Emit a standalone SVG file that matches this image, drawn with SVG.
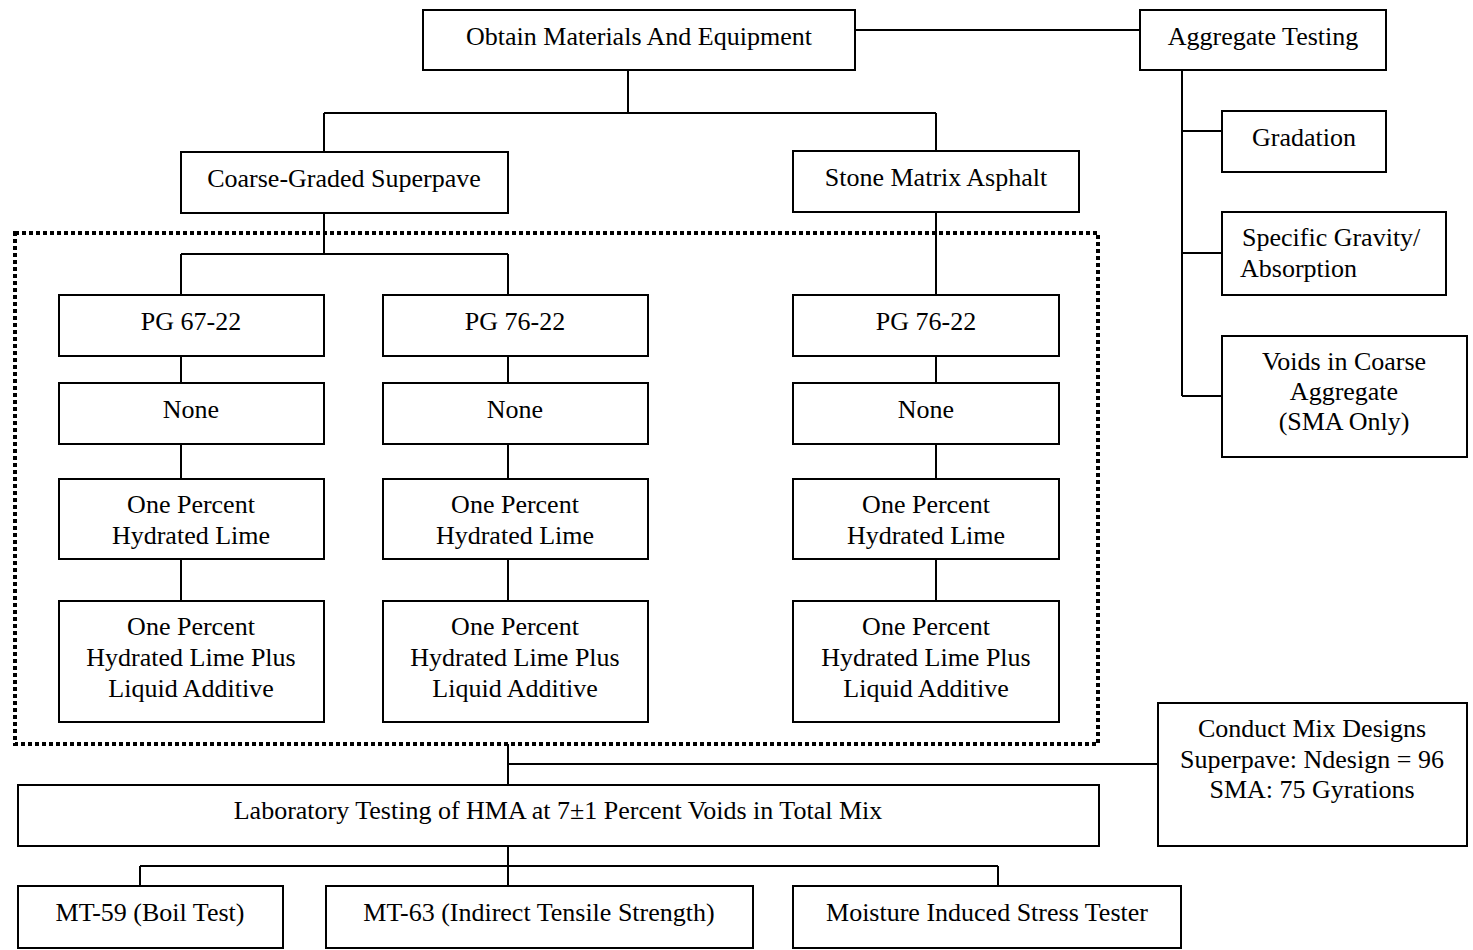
<svg xmlns="http://www.w3.org/2000/svg" width="1473" height="950" viewBox="0 0 1473 950">
<style>
.box{fill:#fff;stroke:#000;stroke-width:2}
.t{font-family:"Liberation Serif","Times New Roman",serif;font-size:26px;fill:#000;text-anchor:middle}
.tl{font-family:"Liberation Serif","Times New Roman",serif;font-size:26px;fill:#000;text-anchor:start}
.ln{fill:none;stroke:#000;stroke-width:2}
.dot{fill:none;stroke:#000;stroke-width:4;stroke-dasharray:4 3}
</style>
<rect width="1473" height="950" fill="#fff"/>
<g id="connectors">
<path class="ln" d="M855 30H1140"/>
<path class="ln" d="M628 70V113M324 113H936M324 113V152M936 113V151"/>
<path class="ln" d="M324 213V254M181 254H508M181 254V295M508 254V295"/>
<path class="ln" d="M936 212V295"/>
<path class="ln" d="M181 356V383M181 444V479M181 559V601"/>
<path class="ln" d="M508 356V383M508 444V479M508 559V601"/>
<path class="ln" d="M936 356V383M936 444V479M936 559V601"/>
<path class="ln" d="M1182 70V396M1182 131H1222M1182 253H1222M1182 396H1222"/>
<path class="ln" d="M508 744V785M508 764H1158"/>
<path class="ln" d="M508 846V866M140 866H998M140 866V886M508 866V886M998 866V886"/>
</g>
<g id="group-border">
<rect class="dot" x="15" y="233" width="1083" height="511"/>
</g>
<g id="obtain"><rect class="box" x="423" y="10" width="432" height="60"/><text class="t" x="639" y="45">Obtain Materials And Equipment</text></g>
<g id="aggregate"><rect class="box" x="1140" y="10" width="246" height="60"/><text class="t" x="1263" y="45">Aggregate Testing</text></g>
<g id="gradation"><rect class="box" x="1222" y="111" width="164" height="61"/><text class="t" x="1304" y="146">Gradation</text></g>
<g id="specific-gravity"><rect class="box" x="1222" y="212" width="224" height="83"/><text class="tl" x="1242" y="246">Specific Gravity/</text><text class="tl" x="1240" y="277">Absorption</text></g>
<g id="voids"><rect class="box" x="1222" y="336" width="245" height="121"/><text class="t" x="1344" y="370">Voids in Coarse</text><text class="t" x="1344" y="400">Aggregate</text><text class="t" x="1344" y="430">(SMA Only)</text></g>
<g id="coarse"><rect class="box" x="181" y="152" width="327" height="61"/><text class="t" x="344" y="187">Coarse-Graded Superpave</text></g>
<g id="sma"><rect class="box" x="793" y="151" width="286" height="61"/><text class="t" x="936" y="186">Stone Matrix Asphalt</text></g>
<g id="pg1"><rect class="box" x="59" y="295" width="265" height="61"/><text class="t" x="191" y="330">PG 67-22</text></g>
<g id="pg2"><rect class="box" x="383" y="295" width="265" height="61"/><text class="t" x="515" y="330">PG 76-22</text></g>
<g id="pg3"><rect class="box" x="793" y="295" width="266" height="61"/><text class="t" x="926" y="330">PG 76-22</text></g>
<g id="none1"><rect class="box" x="59" y="383" width="265" height="61"/><text class="t" x="191" y="418">None</text></g>
<g id="none2"><rect class="box" x="383" y="383" width="265" height="61"/><text class="t" x="515" y="418">None</text></g>
<g id="none3"><rect class="box" x="793" y="383" width="266" height="61"/><text class="t" x="926" y="418">None</text></g>
<g id="lime1"><rect class="box" x="59" y="479" width="265" height="80"/><text class="t" x="191" y="513">One Percent</text><text class="t" x="191" y="544">Hydrated Lime</text></g>
<g id="lime2"><rect class="box" x="383" y="479" width="265" height="80"/><text class="t" x="515" y="513">One Percent</text><text class="t" x="515" y="544">Hydrated Lime</text></g>
<g id="lime3"><rect class="box" x="793" y="479" width="266" height="80"/><text class="t" x="926" y="513">One Percent</text><text class="t" x="926" y="544">Hydrated Lime</text></g>
<g id="liquid1"><rect class="box" x="59" y="601" width="265" height="121"/><text class="t" x="191" y="635">One Percent</text><text class="t" x="191" y="666">Hydrated Lime Plus</text><text class="t" x="191" y="697">Liquid Additive</text></g>
<g id="liquid2"><rect class="box" x="383" y="601" width="265" height="121"/><text class="t" x="515" y="635">One Percent</text><text class="t" x="515" y="666">Hydrated Lime Plus</text><text class="t" x="515" y="697">Liquid Additive</text></g>
<g id="liquid3"><rect class="box" x="793" y="601" width="266" height="121"/><text class="t" x="926" y="635">One Percent</text><text class="t" x="926" y="666">Hydrated Lime Plus</text><text class="t" x="926" y="697">Liquid Additive</text></g>
<g id="mixdesign"><rect class="box" x="1158" y="703" width="309" height="143"/><text class="t" x="1312" y="737">Conduct Mix Designs</text><text class="t" x="1312" y="768">Superpave: Ndesign = 96</text><text class="t" x="1312" y="798">SMA: 75 Gyrations</text></g>
<g id="lab"><rect class="box" x="18" y="785" width="1081" height="61"/><text class="t" x="558" y="819">Laboratory Testing of HMA at 7±1 Percent Voids in Total Mix</text></g>
<g id="mt59"><rect class="box" x="18" y="886" width="265" height="62"/><text class="t" x="150" y="921">MT-59 (Boil Test)</text></g>
<g id="mt63"><rect class="box" x="326" y="886" width="427" height="62"/><text class="t" x="539" y="921">MT-63 (Indirect Tensile Strength)</text></g>
<g id="mist"><rect class="box" x="793" y="886" width="388" height="62"/><text class="t" x="987" y="921">Moisture Induced Stress Tester</text></g>
</svg>
